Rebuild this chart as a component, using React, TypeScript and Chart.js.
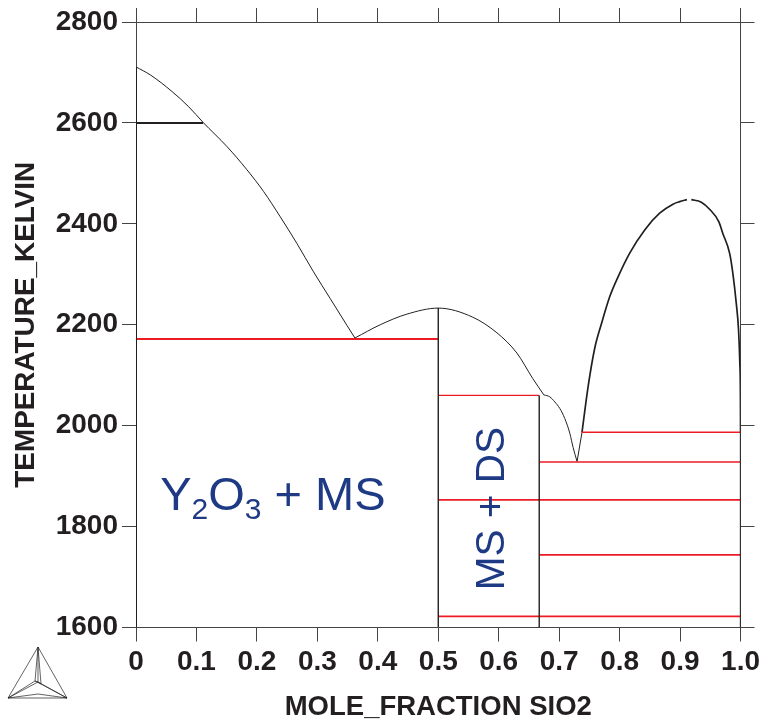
import React, { useEffect, useRef } from "react";
import { Chart, registerables } from "chart.js";

Chart.register(...registerables);

const xTickValues = [0, 0.1, 0.2, 0.3, 0.4, 0.5, 0.6, 0.7, 0.8, 0.9, 1.0];
const xTickLabels = ["0", "0.1", "0.2", "0.3", "0.4", "0.5", "0.6", "0.7", "0.8", "0.9", "1.0"];
const yTickValues = [1600, 1800, 2000, 2200, 2400, 2600, 2800];

const liquidusOxide = [[0, 2711], [0.0239, 2695], [0.0598, 2662], [0.0872, 2632], [0.111, 2601], [0.1506, 2553], [0.1836, 2507], [0.2111, 2464], [0.2386, 2414], [0.2662, 2361], [0.2936, 2305], [0.3212, 2252], [0.3488, 2199], [0.3625, 2173]];
const liquidusMono = [[0.3625, 2174], [0.404, 2200], [0.448, 2221], [0.5, 2233], [0.557, 2215], [0.597, 2184], [0.63, 2144], [0.656, 2094], [0.6746, 2061]];
const liquidusDi = [[0.6746, 2061], [0.6846, 2057], [0.6928, 2047], [0.7011, 2034], [0.7093, 2014], [0.7176, 1985], [0.723, 1957], [0.7296, 1929]];
const eutecticRise = [[0.7296, 1929], [0.7378, 1987]];
const domeLeft = [[0.7378, 1987], [0.7478, 2077], [0.7589, 2154], [0.7699, 2202], [0.7837, 2256], [0.7974, 2295], [0.8167, 2342], [0.8415, 2388], [0.8662, 2421], [0.8882, 2439], [0.8993, 2444], [0.9113, 2448]];
const domeRight = [[0.9186, 2448], [0.9351, 2443], [0.9488, 2429], [0.9642, 2404], [0.9707, 2381], [0.9819, 2342], [0.9873, 2302], [0.9929, 2243], [0.9967, 2190], [0.9988, 2124], [0.9998, 2057], [1, 1987]];

const redLines = [
  [0, 0.5, 2172], [0.5, 0.667, 2060], [0.737, 1, 1987], [0.667, 1, 1928],
  [0.5, 1, 1853], [0.667, 1, 1744], [0.5, 1, 1622],
];
const blackLines = [[0, 0.111, 2600]];
const verticalLines = [[0, 1600, 2710], [0.5, 1600, 2233], [0.667, 1600, 2060], [1, 1600, 1987]];

const INK = "#231f20";
const RED = "#ed1c24";
const BLUE = "#1f3a85";
const FONT = "'Liberation Sans', Arial, sans-serif";

const toPts = (a: number[][]) => a.map(([x, y]) => ({ x, y }));

const annotations = {
  id: "annotations",
  afterDatasetsDraw(chart: any) {
    const { ctx, scales } = chart;
    const sx = scales.x, sy = scales.y;
    ctx.save();
    ctx.fillStyle = BLUE;
    ctx.textBaseline = "alphabetic";
    ctx.textAlign = "left";
    let cx = sx.getPixelForValue(0.04);
    const by = sy.getPixelForValue(1832);
    const parts: [string, boolean][] = [["Y", false], ["2", true], ["O", false], ["3", true], [" + MS", false]];
    for (const [t, sub] of parts) {
      ctx.font = `${sub ? 30 : 47}px ${FONT}`;
      ctx.fillText(t, cx, sub ? by + 9 : by);
      cx += ctx.measureText(t).width;
    }
    ctx.translate(sx.getPixelForValue(0.608), sy.getPixelForValue(1674));
    ctx.rotate(-Math.PI / 2);
    ctx.font = `40.5px ${FONT}`;
    ctx.fillText("MS + DS", 0, 0);
    ctx.restore();

    // program logo
    ctx.save();
    ctx.strokeStyle = INK;
    ctx.lineWidth = 0.7;
    const A = [38, 647], B = [8, 698], C = [67, 698], O = [38, 682];
    const path = (...p: number[][]) => {
      ctx.beginPath();
      p.forEach((q, i) => (i ? ctx.lineTo(q[0], q[1]) : ctx.moveTo(q[0], q[1])));
      ctx.stroke();
    };
    path(A, B, C, A);
    path(A, O, B, [38, 694], C, O);
    path(A, [35, 681], B);
    path(A, [41, 684], C);
    path([35, 681], O, [41, 684], [35, 681]);
    ctx.restore();
  },
};

const line = (data: number[][], color: string, width: number, smooth = false) => ({
  data: toPts(data),
  borderColor: color,
  borderWidth: width,
  pointRadius: 0,
  showLine: true,
  fill: false,
  cubicInterpolationMode: smooth ? ("monotone" as const) : ("default" as const),
  tension: 0,
});

export default function App() {
  const ref = useRef<HTMLCanvasElement>(null);
  useEffect(() => {
    document.body.style.margin = "0";
    const tickFont = { family: FONT, size: 28, weight: "bold" as const };
    const fix = (dim: "width" | "height", v: number) => (s: any) => {
      s[dim] = v;
    };
    const common = {
      grid: { drawOnChartArea: false, tickLength: 14, tickColor: "#444", tickWidth: 1 },
      border: { color: "#444", width: 1 },
    };
    const xAfter = (s: any) => {
      s.ticks = xTickValues.map((value) => ({ value }));
    };
    const yAfter = (s: any) => {
      s.ticks = yTickValues.map((value) => ({ value }));
    };
    const chart = new Chart(ref.current!, {
      type: "scatter",
      data: {
        datasets: [
          ...verticalLines.map(([x, a, b], i) =>
            line([[x, a], [x, b]], INK, i === 0 ? 2 : 1.4)
          ),
          ...redLines.map(([a, b, y], i) => line([[a, y], [b, y]], RED, i === 0 ? 2 : i === 1 ? 1.2 : 1.6)),
          ...blackLines.map(([a, b, y]) => line([[a, y], [b, y]], INK, 2)),
          line(liquidusOxide, INK, 1, true),
          line(liquidusMono, INK, 1, true),
          line(liquidusDi, INK, 1, true),
          line(eutecticRise, INK, 1),
          line(domeLeft, INK, 1.7, true),
          line(domeRight, INK, 1.7, true),
        ],
      },
      plugins: [annotations],
      options: {
        responsive: false,
        animation: false,
        layout: { padding: 0 },
        plugins: { legend: { display: false }, tooltip: { enabled: false } },
        scales: {
          x: {
            type: "linear", min: 0, max: 1, position: "bottom",
            ...common,
            afterBuildTicks: xAfter,
            afterFit: fix("height", 94.5),
            ticks: {
              color: INK, font: tickFont, padding: 4, maxRotation: 0, autoSkip: false,
              callback: (v: any) => xTickLabels[xTickValues.indexOf(Math.round(v * 10) / 10)],
            },
            title: {
              display: true, text: "MOLE_FRACTION SIO2", color: INK,
              font: { family: FONT, size: 27.5, weight: "bold", lineHeight: 1 },
              padding: { top: 0, bottom: 1 },
            },
          },
          xTop: {
            type: "linear", min: 0, max: 1, position: "top",
            ...common,
            afterBuildTicks: xAfter,
            afterFit: fix("height", 22),
            ticks: { display: false },
          },
          y: {
            type: "linear", min: 1600, max: 2800, position: "left",
            ...common,
            afterBuildTicks: yAfter,
            afterFit: fix("width", 136),
            ticks: { color: INK, font: tickFont, padding: 4, autoSkip: false, callback: (v: any) => String(v) },
            title: {
              display: true, text: "TEMPERATURE_KELVIN", color: INK,
              font: { family: FONT, size: 27.9, weight: "bold", lineHeight: 1 },
              padding: { top: 12, bottom: 0 },
            },
          },
          yRight: {
            type: "linear", min: 1600, max: 2800, position: "right",
            ...common,
            afterBuildTicks: yAfter,
            afterFit: fix("width", 22.5),
            ticks: { display: false },
          },
        },
      } as any,
    });
    return () => chart.destroy();
  }, []);
  return <canvas ref={ref} width={764} height={722} style={{ display: "block", width: 764, height: 722 }} />;
}
